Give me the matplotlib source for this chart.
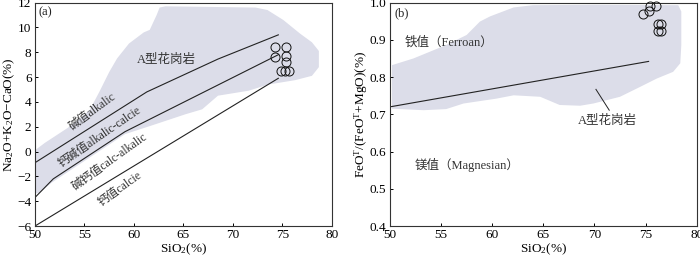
import numpy as np
import matplotlib
matplotlib.use("Agg")
import matplotlib.pyplot as plt

plt.rcParams['font.family'] = ['Liberation Serif', 'Noto Sans CJK SC', 'DejaVu Sans']
plt.rcParams['mathtext.fontset'] = 'custom'
plt.rcParams['mathtext.rm'] = 'Liberation Serif'
plt.rcParams['mathtext.it'] = 'Liberation Serif:italic'

SHADE = "#dcdde9"

# ---- panel (a): MALI diagram ----
a_field_x = [50, 51, 53.3, 55.5, 56.5, 57.5, 58.3, 59.5, 61, 61.6, 62.3, 62.6, 63.2, 72.3, 73.5,
             75.1, 76.8, 78.0, 78.7, 78.7, 78.0, 76.3, 73.6, 71.6, 68.5, 66.9, 65.2, 61.8, 59.1,
             51.7, 50.5, 50]
a_field_y = [0.1, 0.7, 1.9, 3.3, 4.8, 6.4, 7.5, 8.7, 9.6, 9.8, 11.0, 11.6, 11.7, 11.6, 11.4,
             10.6, 9.5, 8.8, 8.1, 6.8, 6.1, 5.75, 5.4, 4.9, 4.5, 3.4, 3.0, 2.1, 1.4,
             -2.5, -3.3, -3.4]

alkalic_x = [50, 61.3, 68.5, 74.6]
alkalic_y = [-0.9, 4.8, 7.45, 9.4]
alkcalc_x = [50, 51.85, 59.1, 74.6]
alkcalc_y = [-3.7, -2.2, 1.6, 7.8]
calcalk_x = [50, 74.6]
calcalk_y = [-6, 5.9]

a_sio2 = [74.3, 75.4, 74.3, 75.4, 75.4, 74.9, 75.3, 75.7]
a_mali = [8.4, 8.4, 7.6, 7.7, 7.2, 6.5, 6.5, 6.5]

a_labels = ["碱值alkalic", "钙碱值alkalic-calcie", "碱钙值calc-alkalic", "钙值calcie"]
a_label_x = [55.8, 56.5, 57.6, 58.6]
a_label_y = [3.2, 1.15, -0.8, -3.0]
a_label_rot = [36, 34.5, 35.5, 35.5]

# ---- panel (b): Fe-number diagram ----
b_field_x = [50.2, 52.3, 55.5, 57.5, 58.8, 59.8, 62.1, 64.0, 70, 78.2, 78.5, 78.5, 78.4, 77.7,
             76.1, 74.5, 72.5, 69.9, 68.6, 66.6, 64.7, 62.1, 60.4, 57.2, 55.5, 53.3, 50.2]
b_field_y = [0.832, 0.85, 0.886, 0.913, 0.949, 0.963, 0.987, 0.993, 0.994, 0.993, 0.976, 0.886,
             0.837, 0.814, 0.796, 0.774, 0.747, 0.729, 0.723, 0.725, 0.747, 0.751, 0.742,
             0.729, 0.714, 0.711, 0.715]

ferroan_x = [50, 75.3]
ferroan_y = [0.72, 0.842]

b_sio2 = [74.8, 75.3, 75.4, 76.0, 76.2, 76.5, 76.2, 76.5]
b_fe = [0.969, 0.978, 0.992, 0.99, 0.942, 0.942, 0.924, 0.924]

fig = plt.figure(figsize=(7.0, 2.58), dpi=100)
ax1 = fig.add_axes([0.05, 0.124, 0.4239, 0.866])
ax2 = fig.add_axes([0.5571, 0.124, 0.4381, 0.866])

fs = 9
fs_tick = 9.5

ax1.fill(a_field_x, a_field_y, color=SHADE, lw=0, zorder=0)
for xs, ys in [(alkalic_x, alkalic_y), (alkcalc_x, alkcalc_y), (calcalk_x, calcalk_y)]:
    ax1.plot(xs, ys, color="#222222", lw=0.8, zorder=2)
ax1.plot(a_sio2, a_mali, 'o', mfc='none', mec='#111111', mew=0.7, ms=6.5, zorder=3)
for t, x, y, r in zip(a_labels, a_label_x, a_label_y, a_label_rot):
    ax1.text(x, y, t, rotation=r, ha='center', va='center', fontsize=fs - 0.5, color='#333333',
             rotation_mode='anchor')
ax1.text(63.3, 7.4, "A型花岗岩", ha='center', va='center', fontsize=fs, color='#333333')
ax1.text(50.4, 11.2, "(a)", ha='left', va='center', fontsize=fs, color='#222222')
ax1.set_xlim(50, 80)
ax1.set_ylim(-6, 12)
ax1.set_xticks(np.arange(50, 81, 5))
ax1.set_yticks(np.arange(-6, 13, 2))
ax1.set_xlabel("SiO$_2$(%)", fontsize=fs_tick, labelpad=0)
ax1.set_ylabel("Na$_2$O+K$_2$O−CaO(%)", fontsize=fs_tick, labelpad=0)

ax2.fill(b_field_x, b_field_y, color=SHADE, lw=0, zorder=0)
ax2.plot(ferroan_x, ferroan_y, color="#222222", lw=0.8, zorder=2)
ax2.plot(b_sio2, b_fe, 'o', mfc='none', mec='#111111', mew=0.7, ms=6.5, zorder=3, clip_on=False)
ax2.plot([71.45, 70.15], [0.711, 0.767], color="#222222", lw=0.7)
ax2.text(71.3, 0.681, "A型花岗岩", ha='center', va='center', fontsize=fs, color='#333333')
ax2.text(51.4, 0.892, "铁值（Ferroan）", ha='left', va='center', fontsize=fs, color='#333333')
ax2.text(52.4, 0.565, "镁值（Magnesian）", ha='left', va='center', fontsize=fs, color='#333333')
ax2.text(50.4, 0.97, "(b)", ha='left', va='center', fontsize=fs, color='#222222')
ax2.set_xlim(50, 80)
ax2.set_ylim(0.4, 1.0)
ax2.set_xticks(np.arange(50, 81, 5))
ax2.set_yticks(np.arange(0.4, 1.01, 0.1))
ax2.set_yticklabels(["%.1f" % v for v in np.arange(0.4, 1.01, 0.1)])
ax2.set_xlabel("SiO$_2$(%)", fontsize=fs_tick, labelpad=0)
ax2.set_ylabel("FeO$^\\mathrm{T}$/(FeO$^\\mathrm{T}$+MgO)(%)", fontsize=fs_tick, labelpad=0)

for ax in (ax1, ax2):
    ax.tick_params(direction='in', length=2.5, width=0.7, labelsize=fs_tick, pad=2.5,
                   top=False, right=False)
    for s in ax.spines.values():
        s.set_linewidth(0.8)
        s.set_color('#333333')

fig.savefig("out.png", dpi=100)
